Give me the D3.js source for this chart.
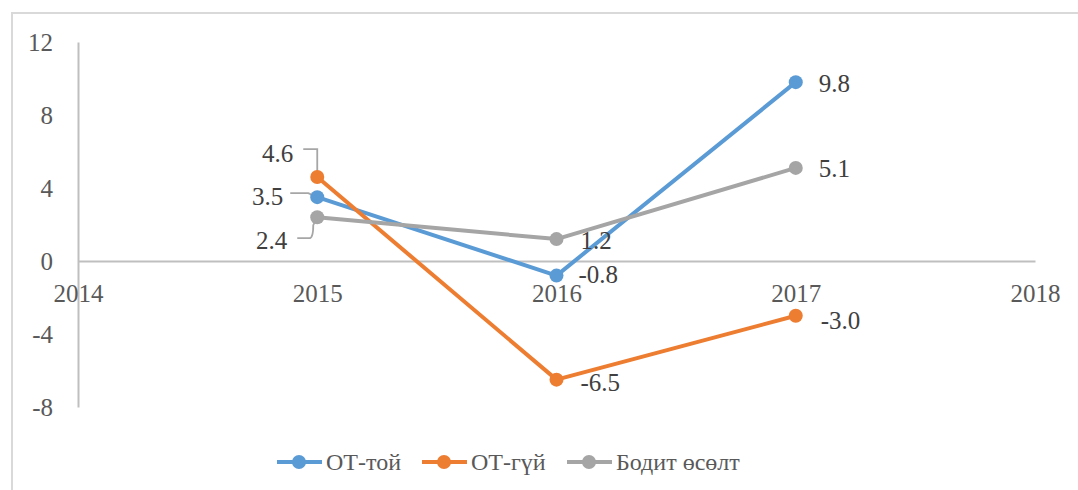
<!DOCTYPE html>
<html><head><meta charset="utf-8">
<script src="https://cdn.jsdelivr.net/npm/d3@7"></script>
<style>html,body{margin:0;padding:0;background:#fff;}svg{display:block;} svg text{font-family:"Liberation Serif","Times New Roman",serif;}</style>
</head><body>
<svg id="chart" width="1078" height="490"></svg>
<script>
const years = [2015, 2016, 2017];
const seriesNames = ["ОТ-той", "ОТ-гүй", "Бодит өсөлт"];
const otToi = [3.5, -0.8, 9.8];
const otGui = [4.6, -6.5, -3.0];
const boditOsolt = [2.4, 1.2, 5.1];
const xTicks = [2014, 2015, 2016, 2017, 2018];
const yTicks = [-8, -4, 0, 4, 8, 12];

const colors = ["#5B9BD5", "#ED7D31", "#A5A5A5"];
const seriesValues = [otToi, otGui, boditOsolt];
// label placement (offset from point): [anchor, dx, dy]
const labelPos = [
  [["end", -34, -1], ["start", 22, -1], ["start", 23, 1]],
  [["end", -24, -24], ["start", 24, 3], ["start", 25, 5]],
  [["end", -30, 23], ["start", 24, 1], ["start", 23, 1]]
];

const svg = d3.select("#chart");
const font = "Liberation Serif";
const fs = 25;
const fmtInt = d => String(d);
const fmt1 = d => d.toFixed(1);

svg.append("rect").attr("x", 12).attr("y", 13).attr("width", 1100).attr("height", 500)
  .attr("fill", "#fff").attr("stroke", "#d9d9d9").attr("stroke-width", 2);

const x = d3.scaleLinear().domain([2014, 2018]).range([78, 1035]);
const y = d3.scaleLinear().domain([-8, 12]).range([407, 42]);

// y axis
const yAxis = svg.append("g").attr("transform", `translate(${x(2014)},0)`)
  .call(d3.axisLeft(y).tickValues(yTicks).tickSize(0).tickPadding(25).tickFormat(fmtInt));
yAxis.attr("font-family", null);
yAxis.select(".domain").attr("stroke", "#bfbfbf").attr("stroke-width", 2);
yAxis.selectAll("text").style("font-family", font).attr("font-size", fs).attr("fill", "#595959");

// x axis at zero
const xAxis = svg.append("g").attr("transform", `translate(0,${y(0)})`)
  .call(d3.axisBottom(x).tickValues(xTicks).tickSize(0).tickPadding(23).tickFormat(fmtInt));
xAxis.attr("font-family", null);
xAxis.select(".domain").attr("stroke", "#bfbfbf").attr("stroke-width", 2);
xAxis.selectAll("text").style("font-family", font).attr("font-size", fs).attr("fill", "#595959");

const line = d3.line().x((d, i) => x(years[i])).y(d => y(d));

// leader lines for 2015 labels
const leaders = svg.append("g").attr("fill", "none").attr("stroke", "#a6a6a6").attr("stroke-width", 1.8);
{
  const px = x(2015);
  const pb = y(otToi[0]), po = y(otGui[0]), pg = y(boditOsolt[0]);
  leaders.append("path").attr("d", `M${px - 27},${pb - 4} H${px - 9} L${px},${pb}`);
  leaders.append("path").attr("d", `M${px - 14},${po - 28} H${px} V${po}`);
  leaders.append("path").attr("d", `M${px - 20},${pg + 21} H${px - 8} Q${px - 4},${pg + 21} ${px - 4},${pg + 8} L${px},${pg}`);
}

seriesValues.forEach((vals, s) => {
  const g = svg.append("g");
  g.append("path").datum(vals).attr("d", line).attr("fill", "none")
    .attr("stroke", colors[s]).attr("stroke-width", 4).attr("stroke-linejoin", "round");
  g.selectAll("circle").data(vals).join("circle")
    .attr("cx", (d, i) => x(years[i])).attr("cy", d => y(d)).attr("r", 7).attr("fill", colors[s]);
});

seriesValues.forEach((vals, s) => {
  svg.append("g").selectAll("text").data(vals).join("text")
    .attr("x", (d, i) => x(years[i]) + labelPos[s][i][1])
    .attr("y", (d, i) => y(d) + labelPos[s][i][2])
    .attr("text-anchor", (d, i) => labelPos[s][i][0])
    .attr("dominant-baseline", "central")
    .style("font-family", font).attr("font-size", fs).attr("fill", "#404040")
    .text(d => fmt1(d));
});

// legend
const legendX = [277, 422, 567];
const legend = svg.append("g");
seriesNames.forEach((name, s) => {
  const lx = legendX[s], ly = 462;
  legend.append("line").attr("x1", lx).attr("x2", lx + 45).attr("y1", ly).attr("y2", ly)
    .attr("stroke", colors[s]).attr("stroke-width", 4);
  legend.append("circle").attr("cx", lx + 22).attr("cy", ly).attr("r", 7).attr("fill", colors[s]);
  legend.append("text").attr("x", lx + 49).attr("y", ly).attr("dominant-baseline", "central")
    .style("font-family", font).attr("font-size", fs - 1).attr("fill", "#595959").text(name);
});
</script>
</body></html>
